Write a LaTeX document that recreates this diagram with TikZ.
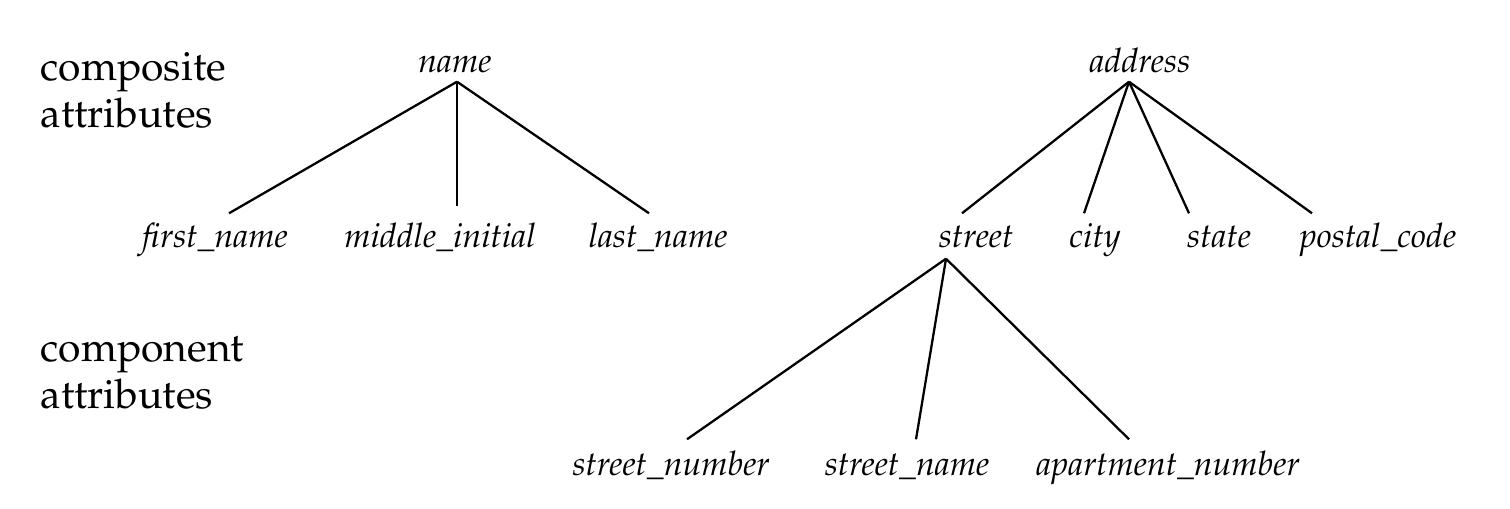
\documentclass[tikz,border=0pt]{standalone}
\usepackage[T1]{fontenc}
\usepackage{mathpazo}
\usetikzlibrary{calc}
\tikzset{every node/.style={inner sep=0pt},
  attr/.style={font=\fontsize{9.6}{11}\selectfont\itshape,anchor=base,
    text height=.33cm,text depth=.09cm},
  kind/.style={font=\fontsize{11.6}{13.3}\selectfont,align=left,anchor=base west},
  link/.style={line width=.65pt}}
\begin{document}
\begin{tikzpicture}[x=.01cm,y=-.01cm]
\useasboundingbox (0,0) rectangle (1510,508);
% side captions (base = last line)
\node[kind] (compo) at (40,127) {composite\\attributes};
\node[kind] (compn) at (40,408) {component\\attributes};
% name and its parts
\node[attr] (name) at (455,72) {name};
\node[attr] (fn) at (215,247) {first\_name};\node[attr] (mi) at (440,247) {middle\_initial};\node[attr] (ln) at (658,247) {last\_name};
\draw[link] ($(name.south)+(2,0)$) -- ($(fn.north)+(14,0)$);
\draw[link] ($(name.south)+(2,0)$) -- ($(mi.north)+(17,-7)$);
\draw[link] ($(name.south)+(2,0)$) -- ($(ln.north)+(-9,0)$);
% address, street is composite again
\node[attr] (addr) at (1140,72) {address};
\node[attr] (st) at (976,247) {street};\node[attr] (city) at (1095,247) {city};
\node[attr] (state) at (1219,247) {state};\node[attr] (pc) at (1378,247) {postal\_code};
\draw[link] ($(addr.south)+(-11,0)$) -- ($(st.north)+(-14,0)$);
\draw[link] ($(addr.south)+(-11,0)$) -- ($(city.north)+(-11,0)$);
\draw[link] ($(addr.south)+(-11,0)$) -- ($(state.north)+(-30,0)$);
\draw[link] ($(addr.south)+(-11,0)$) -- ($(pc.north)+(-66,0)$);
\node[attr] (sn) at (671,475) {street\_number};\node[attr] (sna) at (907,475) {street\_name};
\node[attr] (apt) at (1168,475) {apartment\_number};
\draw[link] ($(st.south)+(-30,2)$) -- ($(sn.north)+(16,-2)$);
\draw[link] ($(st.south)+(-30,2)$) -- ($(sna.north)+(9,-2)$);
\draw[link] ($(st.south)+(-30,2)$) -- ($(apt.north)+(-39,-2)$);
\end{tikzpicture}
\end{document}
